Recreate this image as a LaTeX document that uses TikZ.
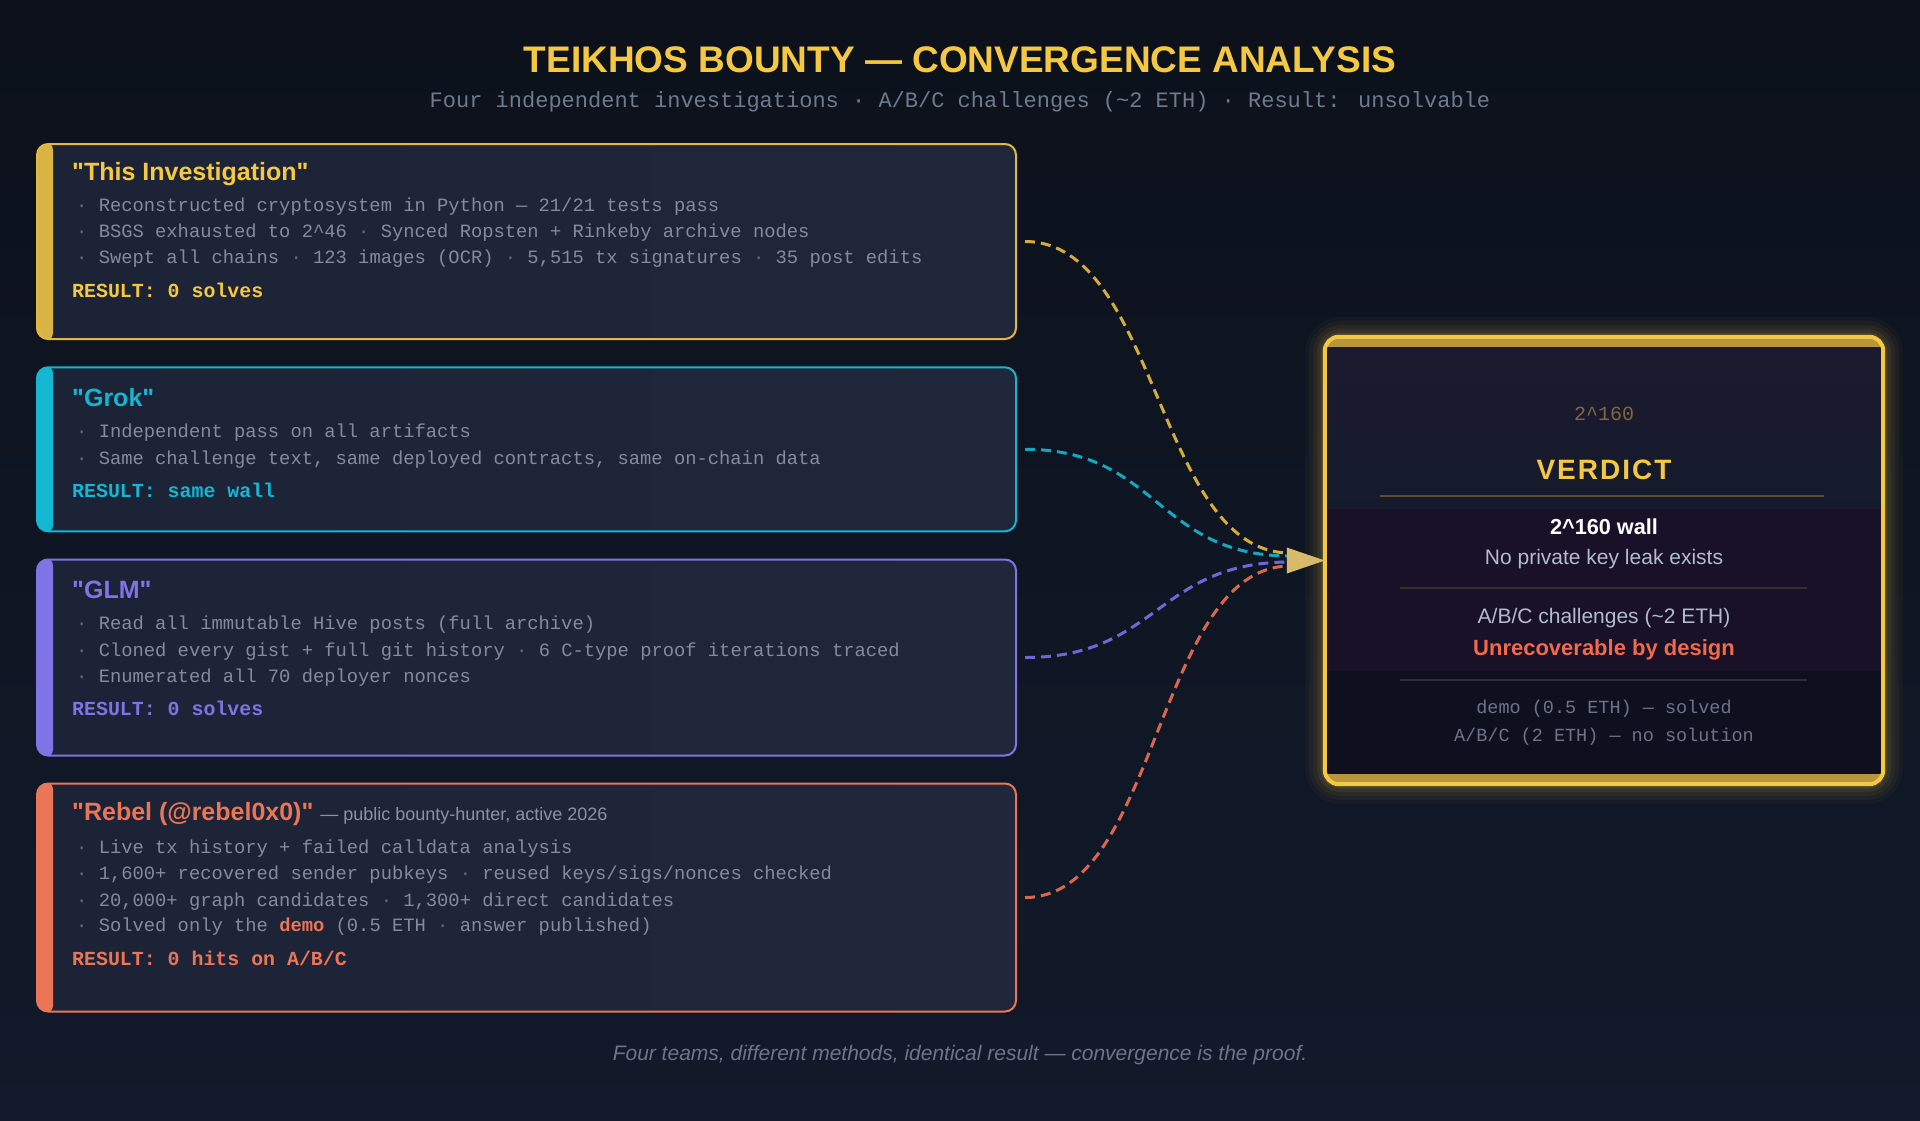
\documentclass[tikz,border=0pt]{standalone}
\usepackage{fontspec}
\newfontfamily\sans{Liberation Sans}
\newfontfamily\mono{Liberation Mono}
\usetikzlibrary{calc}
\definecolor{bgtop}{HTML}{0C111B}
\definecolor{bgbot}{HTML}{121A2B}
\definecolor{boxL}{HTML}{1C2336}
\definecolor{boxR}{HTML}{20273B}
\definecolor{cyel}{HTML}{E2B845}
\definecolor{byel}{HTML}{D9B445}
\definecolor{tyel}{HTML}{F5C842}
\definecolor{ccyan}{HTML}{14B6D2}
\definecolor{cpur}{HTML}{7F73E6}
\definecolor{ccor}{HTML}{EB7557}
\definecolor{kyel}{HTML}{D4AC3C}
\definecolor{kcyan}{HTML}{12A8C2}
\definecolor{kpur}{HTML}{6F66D8}
\definecolor{kcor}{HTML}{D9674E}
\definecolor{btxt}{HTML}{838C9C}
\definecolor{bdotc}{HTML}{5E6778}
\definecolor{subg}{HTML}{6E7A8E}
\definecolor{subt}{HTML}{8A93A3}
\definecolor{footc}{HTML}{6B7689}
\definecolor{vtop}{HTML}{1D1A30}
\definecolor{vmid}{HTML}{141A2C}
\definecolor{vband}{HTML}{181127}
\definecolor{vbot}{HTML}{0E1020}
\definecolor{vgold}{HTML}{B8963F}
\definecolor{vdim}{HTML}{7D6A3C}
\definecolor{vlt}{HTML}{B4BCCB}
\definecolor{vred}{HTML}{F2694C}
\definecolor{vmono}{HTML}{6B7488}
\definecolor{rule1}{HTML}{5C4C30}
\definecolor{rule2}{HTML}{3A2C33}
\definecolor{rule3}{HTML}{2E2C36}
\definecolor{arrc}{HTML}{D9B96A}
\newcommand\bul{{\color{bdotc}·}}
\begin{document}
\begin{tikzpicture}[x=1pt,y=-1pt,
  every node/.style={font=\sans},
  invbox/.style n args={2}{draw=#1, line width=2pt, rounded corners=11pt, left color=boxL, right color=boxR,
    minimum width=979pt, inner sep=0pt,
    path picture={\fill[#2, rounded corners=8pt] ([xshift=-10pt,yshift=2pt]path picture bounding box.north west) rectangle ([xshift=16pt,yshift=-2pt]path picture bounding box.south west);}},
  ttl/.style={anchor=west, inner sep=0pt, text=#1, font={\sans\bfseries\fontsize{25}{28}\selectfont}},
  bline/.style={anchor=west, inner sep=0pt, text=btxt, font={\mono\fontsize{18.8}{22}\selectfont}},
  res/.style={anchor=west, inner sep=0pt, text=#1, font={\mono\bfseries\fontsize{19.9}{22}\selectfont}},
  conn/.style={draw=#1, line width=3pt, dash pattern=on 10pt off 6pt},
  vtext/.style={inner sep=0pt, font={\sans\fontsize{21}{24}\selectfont}, text=vlt},
  vmonot/.style={inner sep=0pt, font={\mono\fontsize{18.5}{22}\selectfont}, text=vmono}
]
\useasboundingbox (0,0) rectangle (1920,1120);
\shade[top color=bgtop, bottom color=bgbot] (0,0) rectangle (1920,1120);

% title
\node[text=tyel, font={\sans\bfseries\fontsize{37}{40}\selectfont}] (title) at (960,60) {TEIKHOS BOUNTY — CONVERGENCE ANALYSIS};
\node[text=subg, font={\mono\fontsize{22}{26}\selectfont}] (subtitle) at (960,102) {Four independent investigations · A/B/C challenges (\textasciitilde 2 ETH) · Result: unsolvable};

% boxes
\node[invbox={cyel}{byel}, minimum height=195pt] (b1) at (526.5,241.5) {};
\node[invbox={ccyan}{ccyan}, minimum height=164pt] (b2) at (526.5,449.3) {};
\node[invbox={cpur}{cpur}, minimum height=196pt] (b3) at (526.5,657.5) {};
\node[invbox={ccor}{ccor}, minimum height=228pt] (b4) at (526.5,897.5) {};

% box 1
\node[ttl=tyel] (t1) at (72,174) {"This Investigation"};
\node[bline] (l11) at (76,207) {\bul{} Reconstructed cryptosystem in Python — 21/21 tests pass};
\node[bline] (l12) at (76,232.7) {\bul{} BSGS exhausted to 2\textasciicircum 46 \bul{} Synced Ropsten + Rinkeby archive nodes};
\node[bline] (l13) at (76,258.4) {\bul{} Swept all chains \bul{} 123 images (OCR) \bul{} 5,515 tx signatures \bul{} 35 post edits};
\node[res=tyel] (r1) at (72,290.5) {RESULT: 0 solves};

% box 2
\node[ttl=ccyan] (t2) at (72,397.5) {"Grok"};
\node[bline] (l21) at (76,432.3) {\bul{} Independent pass on all artifacts};
\node[bline] (l22) at (76,459.2) {\bul{} Same challenge text, same deployed contracts, same on-chain data};
\node[res=ccyan] (r2) at (72,490.3) {RESULT: same wall};

% box 3
\node[ttl=cpur] (t3) at (72,590.3) {"GLM"};
\node[bline] (l31) at (76,624.5) {\bul{} Read all immutable Hive posts (full archive)};
\node[bline] (l32) at (76,651.5) {\bul{} Cloned every gist + full git history \bul{} 6 C-type proof iterations traced};
\node[bline] (l33) at (76,677.2) {\bul{} Enumerated all 70 deployer nonces};
\node[res=cpur] (r3) at (72,708.3) {RESULT: 0 solves};

% box 4
\node[ttl=ccor] (t4) at (72,814.5) {"Rebel (@rebel0x0)" {\mdseries\color{subt}\fontsize{18}{20}\selectfont — public bounty-hunter, active 2026}};
\node[bline] (l41) at (76,848.6) {\bul{} Live tx history + failed calldata analysis};
\node[bline] (l42) at (76,874.3) {\bul{} 1,600+ recovered sender pubkeys \bul{} reused keys/sigs/nonces checked};
\node[bline] (l43) at (76,901.3) {\bul{} 20,000+ graph candidates \bul{} 1,300+ direct candidates};
\node[bline] (l44) at (76,927) {\bul{} Solved only the {\bfseries\color{ccor}demo} (0.5 ETH \bul{} answer published)};
\node[res=ccor] (r4) at (72,958.1) {RESULT: 0 hits on A/B/C};

% verdict glow
\foreach \w/\o in {40/0.03,32/0.04,24/0.05,16/0.07,9/0.10} {
  \draw[tyel, opacity=\o, line width=\w pt, rounded corners=16pt] (1325,337) rectangle (1883,784);
}
\node[fill=vbot, rounded corners=14pt, minimum width=558pt, minimum height=447pt, inner sep=0pt] (verdict) at (1604,560.5) {};
\begin{scope}
  \clip[rounded corners=14pt] (verdict.north west) rectangle (verdict.south east);
  \shade[top color=vtop, bottom color=vmid] (verdict.north west) rectangle ($(verdict.north east)+(0,172)$);
  \fill[vband] ($(verdict.north west)+(0,172)$) rectangle ($(verdict.north east)+(0,334)$);
  \fill[vgold] (verdict.north west) rectangle ($(verdict.north east)+(0,10)$);
  \fill[vgold] ($(verdict.south west)+(0,-10)$) rectangle (verdict.south east);
\end{scope}
\draw[tyel, line width=4pt, rounded corners=14pt] (verdict.north west) rectangle (verdict.south east);

\node[inner sep=0pt, text=vdim, font={\mono\fontsize{20}{24}\selectfont}] (v0) at (1604,414) {2\textasciicircum 160};
\node[inner sep=0pt, text=tyel, font={\sans\bfseries\fontsize{28}{32}\selectfont}] (v1) at (1604,470) {V\kern2pt E\kern2pt R\kern2pt D\kern2pt I\kern2pt C\kern2pt T};
\draw[rule1, line width=2pt] (1380,496) -- (1824,496);
\node[inner sep=0pt, text=white, font={\sans\bfseries\fontsize{21.7}{24}\selectfont}] (v2) at (1604,527) {2\textasciicircum 160 wall};
\node[vtext] (v3) at (1604,559) {No private key leak exists};
\draw[rule2, line width=2pt] (1400,588) -- (1807,588);
\node[vtext] (v4) at (1604,618) {A/B/C challenges (\textasciitilde 2 ETH)};
\node[inner sep=0pt, text=vred, font={\sans\bfseries\fontsize{22}{24}\selectfont}] (v5) at (1604,650) {Unrecoverable by design};
\draw[rule3, line width=2pt] (1400,680) -- (1807,680);
\node[vmonot] (v6) at (1604,709) {demo (0.5 ETH) — solved};
\node[vmonot] (v7) at (1604,737) {A/B/C (2 ETH) — no solution};

% connectors
\coordinate (c1) at (1290,553);
\coordinate (c2) at (1290,556);
\coordinate (c3) at (1290,562);
\coordinate (c4) at (1290,566);
\draw[conn=kyel] ([xshift=8pt]b1.east) .. controls +(133,0) and +(-133,0) .. (c1);
\draw[conn=kcyan] ([xshift=8pt]b2.east) .. controls +(133,0) and +(-133,0) .. (c2);
\draw[conn=kpur] ([xshift=8pt]b3.east) .. controls +(133,0) and +(-133,0) .. (c3);
\draw[conn=kcor] ([xshift=8pt]b4.east) .. controls +(133,0) and +(-133,0) .. (c4);
\fill[arrc] ($(verdict.west)+(-38,-13)$) -- (verdict.west) -- ($(verdict.west)+(-38,13)$) -- cycle;

% footer
\node[text=footc, font={\sans\itshape\fontsize{21}{24}\selectfont}] (foot) at (960,1055) {Four teams, different methods, identical result — convergence is the proof.};
\end{tikzpicture}
\end{document}
